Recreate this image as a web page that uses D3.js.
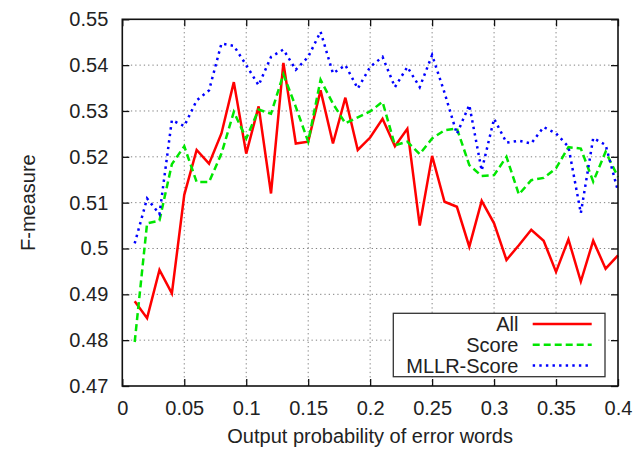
<!DOCTYPE html>
<html>
<head>
<meta charset="utf-8">
<script src="https://cdn.jsdelivr.net/npm/d3@7"></script>
<style>
  body { margin: 0; background: #fff; }
  text { font-family: "Liberation Sans", Arial, Helvetica, sans-serif; fill: #222; }
</style>
</head>
<body>
<div id="chart"></div>
<script>
// F-measure vs. output probability of error words, three curves.
const probs = d3.range(1, 41).map(i => i / 100);   // 0.01 .. 0.40 (x positions)

const allValues = [
  0.4885, 0.4848, 0.4953, 0.4902, 0.5117, 0.5215, 0.5185, 0.5251, 0.5363, 0.5207,
  0.5310, 0.5120, 0.5405, 0.5229, 0.5233, 0.5345, 0.5229, 0.5329, 0.5215, 0.5242,
  0.5283, 0.5223, 0.5261, 0.5050, 0.5202, 0.5102, 0.5091, 0.5004, 0.5104, 0.5055,
  0.4975, 0.5007, 0.5041, 0.5017, 0.4949, 0.5020, 0.4928, 0.5017, 0.4956, 0.4985
];
const scoreValues = [
  0.4796, 0.5055, 0.5061, 0.5184, 0.5223, 0.5145, 0.5145, 0.5207, 0.5298, 0.5240,
  0.5303, 0.5294, 0.5380, 0.5309, 0.5233, 0.5368, 0.5316, 0.5273, 0.5286, 0.5299,
  0.5320, 0.5225, 0.5233, 0.5206, 0.5240, 0.5258, 0.5262, 0.5182, 0.5158, 0.5160,
  0.5200, 0.5118, 0.5149, 0.5154, 0.5175, 0.5221, 0.5218, 0.5146, 0.5211, 0.5156
];
const mllrValues = [
  0.5011, 0.5109, 0.5075, 0.5280, 0.5267, 0.5323, 0.5345, 0.5447, 0.5442, 0.5400,
  0.5356, 0.5418, 0.5434, 0.5390, 0.5418, 0.5473, 0.5382, 0.5400, 0.5349, 0.5396,
  0.5418, 0.5352, 0.5396, 0.5352, 0.5422, 0.5340, 0.5250, 0.5313, 0.5170, 0.5283,
  0.5231, 0.5235, 0.5229, 0.5265, 0.5251, 0.5222, 0.5077, 0.5241, 0.5226, 0.5125
];

const xTicks = [0, 0.05, 0.1, 0.15, 0.2, 0.25, 0.3, 0.35, 0.4];
const xTickLabels = ["0", "0.05", "0.1", "0.15", "0.2", "0.25", "0.3", "0.35", "0.4"];
const yTicks = [0.47, 0.48, 0.49, 0.5, 0.51, 0.52, 0.53, 0.54, 0.55];
const yTickLabels = ["0.47", "0.48", "0.49", "0.5", "0.51", "0.52", "0.53", "0.54", "0.55"];

const seriesNames = ["All", "Score", "MLLR-Score"];

const series = [
  {name: seriesNames[0], values: allValues,   color: "#ff0000", dash: null},
  {name: seriesNames[1], values: scoreValues, color: "#00e600", dash: "7,4"},
  {name: seriesNames[2], values: mllrValues,  color: "#0000ff", dash: "2.4,4.2"}
];

const W = 635, H = 449;
const plot = {left: 122.3, right: 618, top: 19.3, bottom: 386};

const svg = d3.select("#chart").append("svg")
    .attr("width", W)
    .attr("height", H);

svg.append("rect").attr("width", W).attr("height", H).attr("fill", "#fff");

const x = d3.scaleLinear().domain([0, 0.4]).range([plot.left, plot.right]);
const y = d3.scaleLinear().domain([0.47, 0.55]).range([plot.bottom, plot.top]);

// dotted grid at interior ticks
const grid = svg.append("g").attr("class", "grid")
    .attr("stroke", "#808080")
    .attr("stroke-width", 1)
    .attr("stroke-dasharray", "1.3,3");

grid.selectAll(".gx").data(xTicks.slice(1, -1)).enter().append("line")
    .attr("x1", d => x(d)).attr("x2", d => x(d))
    .attr("y1", plot.bottom).attr("y2", plot.top);

grid.selectAll(".gy").data(yTicks.slice(1, -1)).enter().append("line")
    .attr("x1", plot.left).attr("x2", plot.right)
    .attr("y1", d => y(d)).attr("y2", d => y(d));

// curves
const line = d3.line()
    .x((d, i) => x(probs[i]))
    .y(d => y(d));

svg.selectAll(".curve").data(series).enter().append("path")
    .attr("class", "curve")
    .attr("d", d => line(d.values))
    .attr("fill", "none")
    .attr("stroke", d => d.color)
    .attr("stroke-width", 2.5)
    .attr("stroke-dasharray", d => d.dash);

// legend box (covers the grid)
const legend = svg.append("g").attr("class", "legend");
legend.append("rect")
    .attr("x", 393.3).attr("y", 313.3)
    .attr("width", 211.7).attr("height", 63.4)
    .attr("fill", "#fff")
    .attr("stroke", "#333")
    .attr("stroke-width", 1.3);

series.forEach((s, i) => {
  const ry = 324 + i * 20.8;
  legend.append("text")
      .attr("x", 518.5).attr("y", ry)
      .attr("dy", "0.35em")
      .attr("text-anchor", "end")
      .attr("font-size", 20)
      .text(s.name);
  legend.append("line")
      .attr("x1", 532.7).attr("x2", 591.7)
      .attr("y1", ry).attr("y2", ry)
      .attr("stroke", s.color)
      .attr("stroke-width", 2.5)
      .attr("stroke-dasharray", s.dash);
});

// axes: gnuplot-style inward ticks, mirrored
const fmtX = d => xTickLabels[xTicks.indexOf(d)];
const fmtY = d => yTickLabels[yTicks.indexOf(d)];

const axB = svg.append("g")
    .attr("transform", `translate(0,${plot.bottom})`)
    .call(d3.axisBottom(x).tickValues(xTicks).tickFormat(fmtX)
        .tickSizeInner(-7).tickSizeOuter(0).tickPadding(15));
const axL = svg.append("g")
    .attr("transform", `translate(${plot.left},0)`)
    .call(d3.axisLeft(y).tickValues(yTicks).tickFormat(fmtY)
        .tickSizeInner(-7).tickSizeOuter(0).tickPadding(14));
const axT = svg.append("g")
    .attr("transform", `translate(0,${plot.top})`)
    .call(d3.axisTop(x).tickValues(xTicks).tickFormat("")
        .tickSizeInner(-7).tickSizeOuter(0));
const axR = svg.append("g")
    .attr("transform", `translate(${plot.right},0)`)
    .call(d3.axisRight(y).tickValues(yTicks).tickFormat("")
        .tickSizeInner(-7).tickSizeOuter(0));

[axB, axL, axT, axR].forEach(ax => {
  ax.select(".domain").remove();
  ax.selectAll(".tick line").attr("stroke", "#111").attr("stroke-width", 1.3);
  ax.selectAll("text")
      .attr("font-size", 20)
      .attr("font-family", "'Liberation Sans', Arial, Helvetica, sans-serif")
      .attr("fill", "#222");
});

// plot border
svg.append("rect")
    .attr("x", plot.left).attr("y", plot.top)
    .attr("width", plot.right - plot.left)
    .attr("height", plot.bottom - plot.top)
    .attr("fill", "none")
    .attr("stroke", "#111")
    .attr("stroke-width", 1.6);

// axis titles
svg.append("text")
    .attr("x", (plot.left + plot.right) / 2)
    .attr("y", 443)
    .attr("text-anchor", "middle")
    .attr("font-size", 20)
    .text("Output probability of error words");

svg.append("text")
    .attr("transform", `translate(35,${(plot.top + plot.bottom) / 2}) rotate(-90)`)
    .attr("text-anchor", "middle")
    .attr("font-size", 20)
    .text("F-measure");
</script>
</body>
</html>
